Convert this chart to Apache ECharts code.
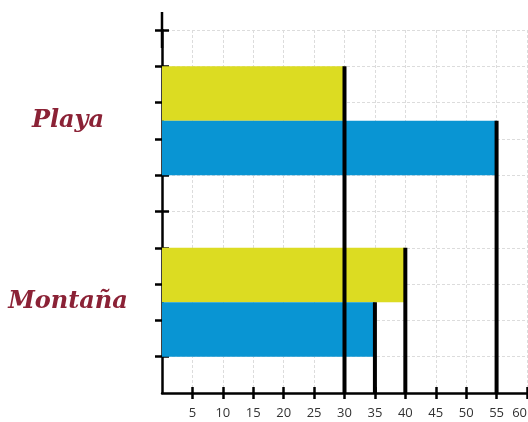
<!DOCTYPE html>
<html>
<head>
<meta charset="utf-8">
<script src="https://cdn.jsdelivr.net/npm/echarts@6/dist/echarts.min.js"></script>
<style>
html,body{margin:0;padding:0;background:#fff;}
#main{width:528px;height:422px;}
</style>
</head>
<body>
<div id="main"></div>
<script>
// ---- data ----
var categories = ['Playa', 'Montaña'];
var yellowValues = [30, 40];
var blueValues = [55, 35];
var xTickLabels = [5, 10, 15, 20, 25, 30, 35, 40, 45, 50, 55, 60];
var yTickValues = [1, 2, 3, 4, 5, 6, 7, 8, 9, 10];

// ---- layout (not data) ----
var categoryCenters = [7.5, 2.5]; // y-axis units
var barThickness = 1.5;           // y-axis units per bar
var colors = { yellow: '#dcdc22', blue: '#0995d3' };

var barData = [];
categories.forEach(function (c, i) {
  var center = categoryCenters[i];
  barData.push({ value: [yellowValues[i], center, center + barThickness], itemStyle: { color: colors.yellow } });
  barData.push({ value: [blueValues[i], center - barThickness, center], itemStyle: { color: colors.blue } });
});

function renderBar(params, api) {
  var v = api.value(0), y0 = api.value(1), y1 = api.value(2);
  var p0 = api.coord([0, y1]);
  var p1 = api.coord([v, y0]);
  return {
    type: 'rect',
    shape: { x: p0[0], y: p0[1], width: p1[0] - p0[0], height: p1[1] - p0[1] },
    style: { fill: barData[params.dataIndex].itemStyle.color }
  };
}
function renderLine(params, api) {
  var v = api.value(0), y1 = api.value(2);
  var top = api.coord([v, y1]);
  var bottom = api.coord([v, 0]);
  return {
    type: 'line',
    shape: { x1: top[0], y1: top[1], x2: bottom[0], y2: bottom[1] },
    style: { stroke: '#000', lineWidth: 4 }
  };
}

var chart = echarts.init(document.getElementById('main'), null, { renderer: 'canvas' });
chart.setOption({
  animation: false,
  backgroundColor: '#fff',
  grid: { left: 162, right: 1, top: 30, bottom: 29, containLabel: false, outerBoundsMode: 'none' },
  xAxis: [{
    type: 'value', min: 0, max: 60, interval: 5,
    axisLine: { show: true, lineStyle: { color: '#000', width: 2.5 } },
    axisTick: { show: true, length: 6, lineStyle: { color: '#000', width: 2.5 }, customValues: xTickLabels },
    axisLabel: { show: true, customValues: xTickLabels, margin: 14, color: '#333', fontSize: 13, fontFamily: 'Open Sans', hideOverlap: false, alignMaxLabel: 'right' },
    splitLine: { show: true, lineStyle: { color: '#dcdcdc', width: 1, type: [3, 2] } }
  }, {
    type: 'value', min: 0, max: 60, interval: 5, position: 'bottom',
    axisLine: { show: false },
    axisTick: { show: true, inside: true, length: 6, lineStyle: { color: '#000', width: 2.5 }, customValues: xTickLabels },
    axisLabel: { show: false },
    splitLine: { show: false }
  }],
  yAxis: [{
    type: 'value', min: 0, max: 10, interval: 1,
    axisLine: { show: true, symbol: ['none', 'rect'], symbolSize: [2.5, 36], lineStyle: { color: '#000', width: 2.5 } },
    axisTick: { show: true, length: 7, lineStyle: { color: '#000', width: 2.5 }, customValues: yTickValues },
    axisLabel: {
      show: true, customValues: categoryCenters, align: 'center', margin: 94,
      formatter: function (val) { var i = categoryCenters.indexOf(val); return i >= 0 ? categories[i] : ''; },
      color: '#8b2236', fontSize: 24, fontStyle: 'italic', fontWeight: 'bold', fontFamily: 'DejaVu Serif'
    },
    splitLine: { show: true, lineStyle: { color: '#dcdcdc', width: 1, type: [3, 2] } }
  }, {
    type: 'value', min: 0, max: 10, interval: 1, position: 'left',
    axisLine: { show: false },
    axisTick: { show: true, inside: true, length: 7, lineStyle: { color: '#000', width: 2.5 }, customValues: yTickValues },
    axisLabel: { show: false },
    splitLine: { show: false }
  }],
  series: [{
    type: 'custom', xAxisIndex: 0, yAxisIndex: 0, renderItem: renderBar, data: barData, z: 2,
    encode: { x: 0, y: [1, 2] }
  }, {
    type: 'custom', xAxisIndex: 0, yAxisIndex: 0, renderItem: renderLine, data: barData, z: 3,
    encode: { x: 0, y: [1, 2] }
  }]
});
</script>
</body>
</html>
